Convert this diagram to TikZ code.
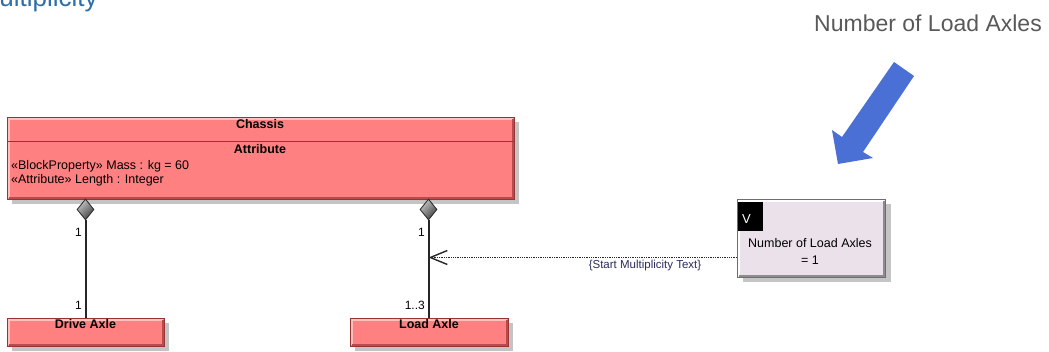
\documentclass[tikz,border=0pt]{standalone}
\usepackage{fontspec}
\setmainfont{Liberation Sans}
\usetikzlibrary{shapes.geometric,arrows.meta,shadows,calc}

\definecolor{blockfill}{HTML}{FF8080}
\definecolor{blockedge}{HTML}{9A3434}
\definecolor{blocklite}{HTML}{FFC0C0}
\definecolor{blockdark}{HTML}{B84C4C}
\definecolor{valfill}{HTML}{EBE1EA}
\definecolor{valedge}{HTML}{6E6E6E}
\definecolor{shade}{HTML}{C4C4C4}
\definecolor{titleblue}{HTML}{2F6EA6}
\definecolor{calloutgray}{HTML}{595959}
\definecolor{calloutblue}{HTML}{4A6FD5}
\definecolor{notetext}{HTML}{2C2C60}

\tikzset{
  block/.style={draw=blockedge, fill=blockfill, line width=0.9pt, anchor=north west,
    inner sep=0pt, drop shadow={shadow xshift=5pt, shadow yshift=-5pt, fill=shade, opacity=1}},
  valuebox/.style={draw=valedge, fill=valfill, line width=1pt, anchor=north west,
    inner sep=0pt, drop shadow={shadow xshift=5pt, shadow yshift=-5pt, fill=shade, opacity=1}},
  btext/.style={font=\fontsize{12.5}{14}\selectfont, inner sep=0pt, anchor=base},
  bbold/.style={btext, font=\fontsize{12.5}{14}\selectfont\bfseries},
  mult/.style={font=\fontsize{12}{14}\selectfont, inner sep=0pt, anchor=base east},
  comp/.style={diamond, draw=black!85, line width=0.8pt, minimum width=17pt, minimum height=21pt,
    inner sep=0pt, top color=gray!45, bottom color=black!75, shading angle=45},
  assoc/.style={line width=2pt, black!85},
}

% light upper/left edge and dark lower/right edge inside a box
\newcommand{\bevelbox}[3]{%
  \draw[#2, line width=2pt] ($(#1.south west)+(2,-2)$) -- ($(#1.north west)+(2,2)$) -- ($(#1.north east)+(-2,2)$);
  \draw[#3, line width=2pt] ($(#1.north east)+(-2,2)$) -- ($(#1.south east)+(-2,-2)$) -- ($(#1.south west)+(2,-2)$);
}

\begin{document}
\begin{tikzpicture}[x=1pt,y=-1pt]
\useasboundingbox[fill=white] (0,0) rectangle (1049,352);

% page heading, running off the left edge
\node[anchor=base west, inner sep=0pt, text=titleblue, font=\fontsize{26}{30}\selectfont]
  (heading) at (-22.5,7) {Multiplicity};

% callout
\node[anchor=base east, inner sep=0pt, text=calloutgray, font=\fontsize{23}{27}\selectfont]
  (callout) at (1042,32) {Number of Load Axles};
\fill[calloutblue] (894,62) -- (914,76) -- (863,152) -- (873,158) -- (838,164)
  -- (832,130) -- (842,137) -- cycle;

% Chassis block
\node[block, minimum width=507pt, minimum height=82pt] (chassis) at (7,117) {};
\bevelbox{chassis}{blocklite}{blockdark}
\draw[blockedge, line width=0.9pt] (7,141) -- (514,141);
\node[bbold] (chassisname) at (260,129) {Chassis};
\node[bbold] (attrhead) at (260,154) {Attribute};
\node[btext, anchor=base west] (attr1) at (11,170) {«BlockProperty» Mass : kg = 60};
\node[btext, anchor=base west] (attr2) at (11,184) {«Attribute» Length : Integer};

% part blocks
\node[block, minimum width=157pt, minimum height=28pt] (drive) at (7,318) {};
\bevelbox{drive}{blocklite}{blockdark}
\node[bbold] (drivename) at (85.5,329) {Drive Axle};

\node[block, minimum width=158pt, minimum height=28pt] (load) at (350,318) {};
\bevelbox{load}{blocklite}{blockdark}
\node[bbold] (loadname) at (429,329) {Load Axle};

% composition diamonds
\node[comp] (dia1) at (85.5,209.5) {};
\node[comp] (dia2) at (428.5,209.5) {};

\draw[assoc] (dia1.south) -- (dia1.south |- drive.north);
\draw[assoc] (dia2.south) -- (dia2.south |- load.north);

% multiplicities
\node[mult] (m1) at (82,237) {1};
\node[mult] (m2) at (82,310) {1};
\node[mult] (m3) at (425,237) {1};
\node[mult] (m4) at (425,310) {1..3};

% value property box
\node[valuebox, minimum width=148pt, minimum height=78pt] (vbox) at (737,199) {};
\bevelbox{vbox}{white}{black!45}
\fill[black] (737.5,202.5) rectangle (763,231);
\node[text=white, font=\fontsize{13}{15}\selectfont, inner sep=0pt, anchor=base west] (vlabel) at (742,224) {V};
\node[btext] (vname) at (810,248) {Number of Load Axles};
\node[btext] (vval) at (810,265) {= 1};

% dependency onto the Load Axle association
\coordinate (hit) at (dia2.south |- 0,257.5);
\coordinate (vport) at (vbox.west |- 0,257.5);
\draw[line width=1.3pt, densely dotted, black!85,
  -{Straight Barb[length=17pt, width=14pt, line width=1.4pt]}] (vport) -- (hit);
\node[font=\fontsize{11.5}{13}\selectfont, text=notetext, inner sep=0pt, anchor=base] (note)
  at (645,269) {\{Start Multiplicity Text\}};

\end{tikzpicture}
\end{document}
